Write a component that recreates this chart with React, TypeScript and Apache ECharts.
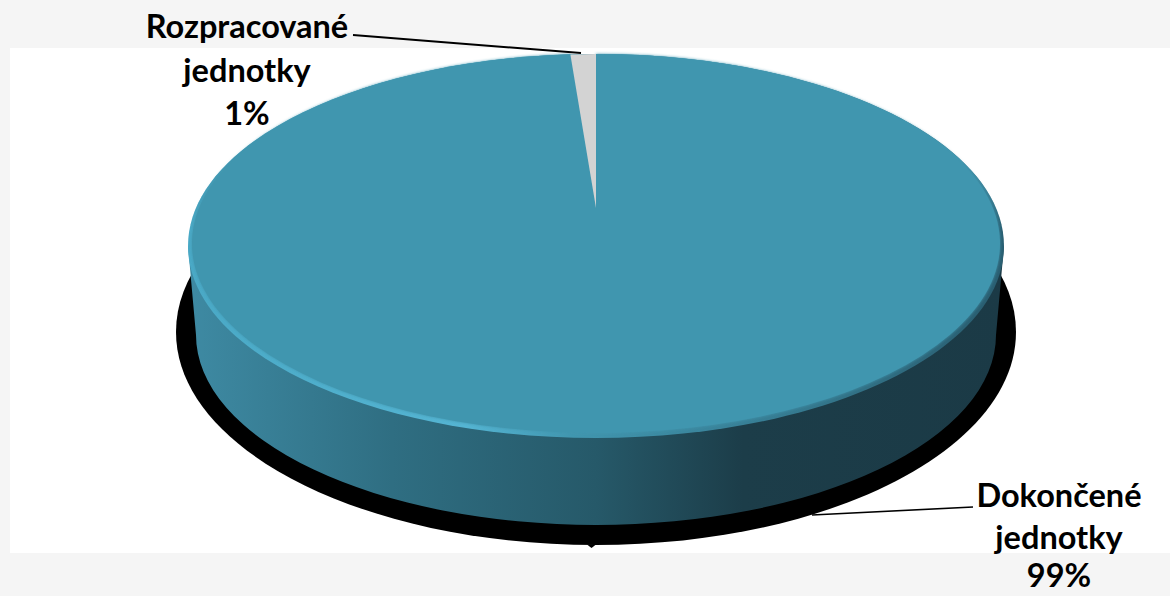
import React, { useEffect, useRef } from "react";
import * as echarts from "echarts";

// Completed versus in-progress production units, in percent.
const categories = ["Dokončené\njednotky", "Rozpracované\njednotky"];
const shares = [99, 1];
const sliceColors = ["#4196af", "#d3d3d3"];

const W = 1170;
const H = 596;
const CX = 596;
const APEX_Y = 208; // perspective centre of the disc
const FACE = { cy: 243.5, rx: 404, ry: 189.5 };
const RIM = { cy: 246, rx: 408, ry: 192 };
const BASE = { cy: 335, rx: 400, ry: 190 };
const FOOT = { cy: 332, rx: 420, ry: 213 };

const wallStops = [
  [0, "#3e8aa3"],
  [0.25, "#2f6e82"],
  [0.5, "#265969"],
  [0.68, "#1c3d49"],
  [1, "#1b3a46"],
];

const rimStops = [
  [0, "#4aa9c6"],
  [0.34, "#55b5d3"],
  [0.47, "#4196af"],
  [0.75, "#35798f"],
  [0.97, "#2a5f72"],
];

const total = shares.reduce((a, b) => a + b, 0);
const starts = shares.map((_, i) => shares.slice(0, i).reduce((a, b) => a + b, 0));

function rimPoint(angle: number, e: { cy: number; rx: number; ry: number }) {
  return [CX + e.rx * Math.sin(angle), e.cy - e.ry * Math.cos(angle)];
}

function slicePath(a0: number, a1: number, e: { cy: number; rx: number; ry: number }) {
  const p0 = rimPoint(a0, e);
  const p1 = rimPoint(a1, e);
  const large = a1 - a0 > Math.PI ? 1 : 0;
  return `M${CX} ${APEX_Y}L${p0[0]} ${p0[1]}A${e.rx} ${e.ry} 0 ${large} 1 ${p1[0]} ${p1[1]}Z`;
}

const wallPath =
  `M${CX - RIM.rx} ${RIM.cy}L${CX - BASE.rx} ${BASE.cy}` +
  `A${BASE.rx} ${BASE.ry} 0 0 0 ${CX + BASE.rx} ${BASE.cy}` +
  `L${CX + RIM.rx} ${RIM.cy}Z`;

function horizontalFill(stops: (string | number)[][]) {
  return {
    type: "linear",
    x: 0,
    y: 0,
    x2: 1,
    y2: 0,
    colorStops: stops.map(([offset, color]) => ({ offset, color })),
  };
}

function renderSlice(params: any, api: any) {
  const start = api.value(0) as number;
  const share = api.value(1) as number;
  const a0 = (start / total) * Math.PI * 2;
  const a1 = ((start + share) / total) * Math.PI * 2;
  const color = sliceColors[params.dataIndex];
  const isLarge = a1 - a0 > Math.PI;
  const children: any[] = [];
  // The large slice owns the whole visible side wall and the bevelled rim.
  if (isLarge) {
    children.push({
      type: "path",
      shape: { pathData: wallPath },
      style: { fill: horizontalFill(wallStops) },
    });
    children.push({
      type: "ellipse",
      shape: { cx: CX, cy: RIM.cy, rx: RIM.rx, ry: RIM.ry },
      style: { fill: horizontalFill(rimStops) },
    });
    // The bevel only catches light on the lower half of the disc.
    children.push({
      type: "ellipse",
      shape: { cx: CX, cy: RIM.cy, rx: RIM.rx, ry: RIM.ry },
      style: {
        fill: {
          type: "linear",
          x: 0,
          y: 0,
          x2: 0,
          y2: 1,
          colorStops: [
            { offset: 0, color: "rgba(65,150,175,1)" },
            { offset: 0.28, color: "rgba(65,150,175,1)" },
            { offset: 0.46, color: "rgba(65,150,175,0)" },
            { offset: 1, color: "rgba(65,150,175,0)" },
          ],
        },
      },
    });
  }
  children.push({
    type: "path",
    shape: { pathData: slicePath(a0, a1, isLarge ? FACE : RIM) },
    style: {
      fill: color,
      ...(isLarge ? { shadowColor: color, shadowBlur: 3 } : {}),
    },
  });
  return { type: "group", children };
}

export default function App() {
  const ref = useRef<HTMLDivElement>(null);

  useEffect(() => {
    document.body.style.margin = "0";
    const chart = echarts.init(ref.current!, null, { renderer: "svg" });
    const labelFont = {
      fontFamily: "Lato, Carlito, sans-serif",
      fontWeight: "bold" as const,
      fontSize: 32.5,
      lineHeight: 43.5,
      fill: "#000",
      align: "center" as const,
      verticalAlign: "top" as const,
    };
    chart.setOption({
      animation: false,
      backgroundColor: "#f5f5f5",
      graphic: [
        { type: "rect", z: 0, shape: { x: 10, y: 48, width: W - 10, height: 505 }, style: { fill: "#fff" } },
        {
          type: "ellipse",
          z: 1,
          shape: { cx: CX, cy: FOOT.cy, rx: FOOT.rx, ry: FOOT.ry },
          style: { fill: "#000" },
        },
        {
          type: "polygon",
          z: 1,
          shape: { points: [[587, 544.5], [591.5, 548], [596, 544.5]] },
          style: { fill: "#000" },
        },
        {
          type: "line",
          z: 10,
          shape: { x1: 353, y1: 35, x2: 581, y2: 53 },
          style: { stroke: "#000", lineWidth: 2 },
        },
        {
          type: "line",
          z: 10,
          shape: { x1: 973, y1: 507, x2: 812, y2: 515 },
          style: { stroke: "#000", lineWidth: 1.6 },
        },
        {
          type: "text",
          z: 10,
          x: 247,
          y: 4,
          style: { ...labelFont, text: `${categories[1]}\n${shares[1]}%` },
        },
        {
          type: "text",
          z: 10,
          x: 1059,
          y: 473,
          style: { ...labelFont, lineHeight: 42, text: categories[0] },
        },
        // Percentage set on its own with a tight box so it stays inside the page.
        {
          type: "text",
          z: 10,
          x: 1059,
          y: 558,
          style: { ...labelFont, lineHeight: 33, text: `${shares[0]}%` },
        },
      ],
      series: [
        {
          type: "custom",
          coordinateSystem: "none",
          silent: true,
          z: 5,
          clip: false,
          renderItem: renderSlice,
          data: shares.map((share, i) => ({ name: categories[i], value: [starts[i], share] })),
        },
      ],
    });
    return () => chart.dispose();
  }, []);

  return <div ref={ref} style={{ width: W, height: H }} />;
}
